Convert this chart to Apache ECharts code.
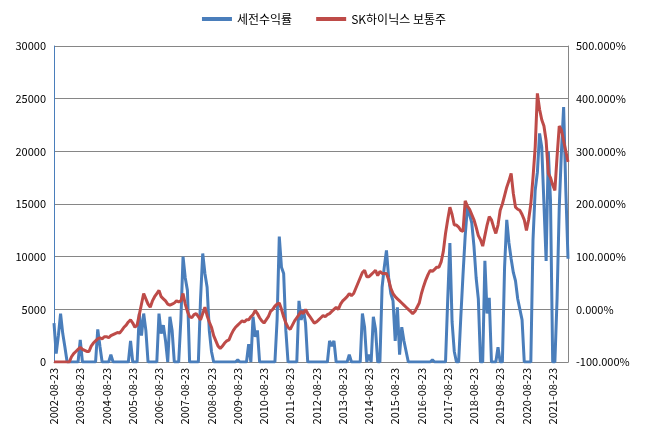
<!DOCTYPE html>
<html><head><meta charset="utf-8">
<script src="https://cdn.jsdelivr.net/npm/echarts@6/dist/echarts.min.js"></script>
<style>html,body{margin:0;padding:0;background:#fff}#c{width:648px;height:441px}</style>
</head><body><div id="c"></div>
<script>
const seriesNames = ['세전수익률', 'SK하이닉스 보통주'];
const leftTicks = [0, 5000, 10000, 15000, 20000, 25000, 30000];
const rightTicks = [-100, 0, 100, 200, 300, 400, 500];
const returnValues = [
3700,800,2500,4600,2700,1400,0,0, 0,0,0,0, 2100,0,0,0, 0,0,0,0, 3100,1500,0,0,
0,0,700,0, 0,0,0,0, 0,0,0,2000, 0,0,0,4600, 2500,4600,3000,0, 0,0,0,0,
4600,2700,3500,2000, 0,4300,3000,0, 0,0,4000,10000, 8000,6800,0,0, 0,0,0,6000,
10300,8400,7100,3000, 1000,0,0,0, 0,0,0,0, 0,0,0,0, 200,0,0,0, 0,1700,0,4300,
2400,3000,0,0, 0,0,0,0, 0,0,4000,11900, 9000,8400,3000,0, 0,0,0,0, 5800,4000,5000,3700,
0,0,0,0, 0,0,0,0, 0,0,2000,1500, 2000,0,0,0, 0,0,0,700, 0,0,0,0,
0,4600,3300,0, 700,0,4300,3100, 0,0,7100,9000, 10600,8000,6500,5800, 2000,5200,700,3300, 2000,1000,0,0,
0,0,0,0, 0,0,0,0, 0,200,0,0, 0,0,0,0, 5900,11300,3800,1000, 0,0,4300,8300,
12000,14700,14000,13200, 11000,8000,6000,0, 0,9600,4600,6100, 0,0,0,1400, 0,0,9000,13500, 11300,9800,8500,7700,
6000,5000,4000,0, 0,0,0,11600, 16300,18000,21700,20400, 15000,9600,20000,15300, 0,0,6000,14700, 20000,24200,16300,9800
];
const stockValues = [
0,0,0,0,0,0,0,0, 500,800,1000,1200, 1400,1200,1100,1000, 1000,1500,1800,2000, 2200,2300,2200,2400,
2400,2300,2500,2600, 2700,2800,2750,3000, 3300,3500,3800,4000, 3700,3300,3500,4500, 5500,6500,6000,5500, 5200,5800,6200,6500,
6800,6200,6000,5800, 5500,5400,5500,5600, 5800,5700,5800,6500, 5500,4800,4300,4200, 4500,4600,4300,4000,
4600,5200,4400,3800, 3300,2500,2000,1500, 1300,1500,1800,2000, 2100,2600,3000,3300, 3500,3700,3900,3800, 4000,4000,4300,4500,
4900,4600,4200,3900, 3700,4000,4300,4800, 5000,5300,5500,5600, 5000,4300,3700,3300, 3100,3500,3900,4200, 4500,4800,4600,5000,
4600,4300,4000,3700, 3800,4000,4200,4400, 4300,4500,4600,4800, 5000,5200,5000,5500, 5800,6000,6200,6500, 6300,6500,7000,7500,
8000,8500,8700,8100, 8100,8300,8500,8700, 8200,8600,8400,8400, 8400,7800,7000,6500, 6200,6000,5800,5600, 5400,5200,5000,4800,
4600,4800,5200,5600, 6500,7200,7800,8300, 8700,8600,8800,9000, 9000,9500,10500,12200, 13500,14700,14000,13000, 13000,12800,12500,12400,
15300,14800,14500,14000, 13500,12800,12000,11600, 11000,12000,13000,13800, 13500,12800,12200,13000, 14400,15000,15800,16600, 17200,17900,16000,14700,
14500,14400,14000,13500, 12500,13500,15000,17500, 20400,25500,24000,23000, 22400,21000,17900,17500, 16800,16300,19500,22400, 22000,21000,20000,19000
];
const categories = [];
for (let i = 0; i < stockValues.length; i++) {
  const t = 2002 * 12 + 7 + i;
  const y = Math.floor(t / 12), m = t % 12 + 1;
  categories.push(y + '-' + String(m).padStart(2, '0') + '-23');
}
const font = 'Malgun Gothic, "Noto Sans CJK KR", "DejaVu Sans", sans-serif';
const chart = echarts.init(document.getElementById('c'));
chart.setOption({
  animation: false,
  textStyle: { fontFamily: font },
  legend: {
    top: 8, left: 'center', itemWidth: 30, itemHeight: 4, itemGap: 24,
    textStyle: { fontSize: 12, color: '#000', fontFamily: font },
    data: [{ name: seriesNames[0], icon: 'rect' }, { name: seriesNames[1], icon: 'rect' }]
  },
  grid: { left: 54, right: 80, top: 46, bottom: 79 },
  xAxis: {
    type: 'category', data: categories, boundaryGap: false,
    axisLine: { lineStyle: { color: '#868686' } },
    axisTick: { show: false },
    axisLabel: { rotate: 90, interval: 11, fontSize: 11, color: '#000', margin: 6 },
    splitLine: { show: false }
  },
  yAxis: [
    { type: 'value', min: leftTicks[0], max: leftTicks[leftTicks.length - 1], interval: 5000,
      axisLine: { show: true, lineStyle: { color: '#4a7ebb' } }, axisTick: { show: false },
      axisLabel: { fontSize: 11, color: '#000', formatter: v => String(v) },
      splitLine: { lineStyle: { color: '#868686' } } },
    { type: 'value', min: rightTicks[0], max: rightTicks[rightTicks.length - 1], interval: 100,
      axisLine: { show: true, lineStyle: { color: '#868686' } }, axisTick: { show: false },
      axisLabel: { fontSize: 11, color: '#000', formatter: v => v.toFixed(3) + '%' },
      splitLine: { show: false } }
  ],
  series: [
    { name: seriesNames[0], type: 'line', data: returnValues, yAxisIndex: 0, showSymbol: false,
      lineStyle: { width: 3, color: '#4a7ebb' }, itemStyle: { color: '#4a7ebb' } },
    { name: seriesNames[1], type: 'line', data: stockValues, yAxisIndex: 0, showSymbol: false,
      lineStyle: { width: 3, color: '#be4b48' }, itemStyle: { color: '#be4b48' } }
  ]
});
</script></body></html>
